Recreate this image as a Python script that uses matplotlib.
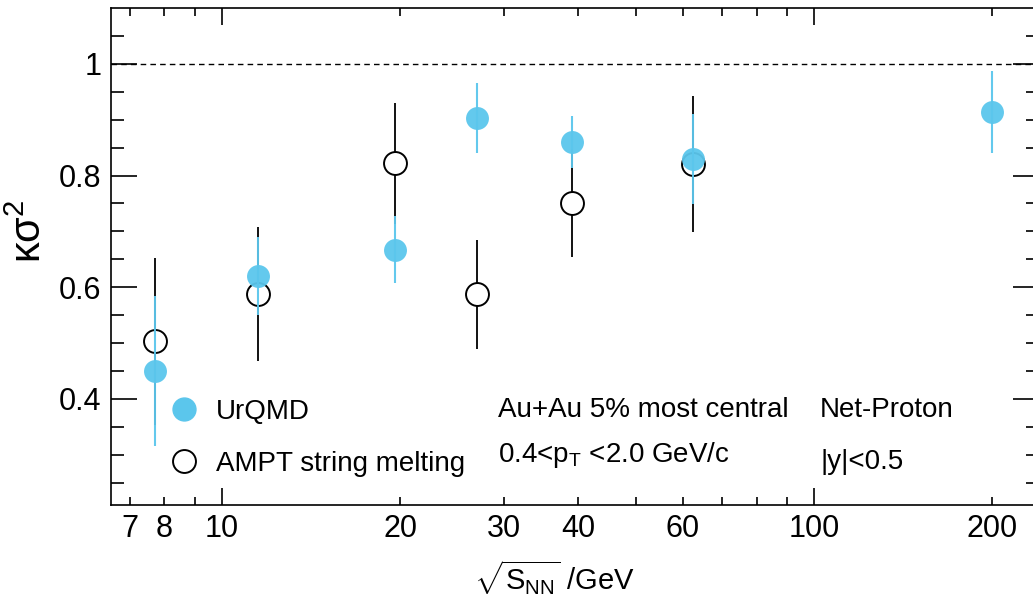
import numpy as np
import matplotlib.pyplot as plt
from matplotlib.lines import Line2D
from matplotlib.ticker import FixedLocator, NullFormatter

plt.rcParams['font.family'] = ['Liberation Sans', 'DejaVu Sans']
plt.rcParams['mathtext.fontset'] = 'custom'
plt.rcParams['mathtext.rm'] = 'Liberation Sans'
plt.rcParams['mathtext.it'] = 'Liberation Sans'
plt.rcParams['mathtext.default'] = 'regular'

# collision energies (GeV)
energy_urqmd = [7.7, 11.5, 19.6, 27, 39, 62.4, 200]
urqmd_val = [0.450, 0.620, 0.667, 0.903, 0.860, 0.830, 0.914]
urqmd_err = [0.135, 0.070, 0.060, 0.063, 0.047, 0.081, 0.073]

energy_ampt = [7.7, 11.5, 19.6, 27, 39, 62.4]
ampt_val = [0.503, 0.588, 0.822, 0.587, 0.751, 0.821]
ampt_err = [0.150, 0.120, 0.108, 0.097, 0.097, 0.122]

xmajor = [10, 100]
xlabeled = [7, 8, 10, 20, 30, 40, 60, 100, 200]
xminor = [7, 8, 9, 20, 30, 40, 50, 60, 70, 80, 90, 200]

blue = '#5bc6ec'

fig = plt.figure(figsize=(10.33, 5.96), dpi=100)
ax = fig.add_axes([0.1075, 0.1527, 0.8984, 0.8339])

ax.axhline(1.0, color='black', ls=(0, (4, 3)), lw=1.0, zorder=1)

ax.errorbar(energy_ampt, ampt_val, yerr=ampt_err, fmt='o', ms=16.5,
            mfc='white', mec='black', mew=1.4, ecolor='black',
            elinewidth=1.3, capsize=0, zorder=2)
ax.errorbar(energy_urqmd, urqmd_val, yerr=urqmd_err, fmt='o', ms=16.5,
            mfc=blue, mec=blue, mew=0, ecolor=blue, alpha=0.95,
            elinewidth=1.5, capsize=0, zorder=3)

ax.set_xscale('log')
ax.set_xlim(6.5, 240)
ax.set_ylim(0.21, 1.1)

ax.xaxis.set_major_locator(FixedLocator(xmajor))
ax.xaxis.set_minor_locator(FixedLocator(xminor))
ax.xaxis.set_major_formatter(NullFormatter())
ax.xaxis.set_minor_formatter(NullFormatter())
for xv in xlabeled:
    ax.text(xv, -0.018, str(xv), transform=ax.get_xaxis_transform(),
            ha='center', va='top', fontsize=22)

ax.set_yticks([0.4, 0.6, 0.8, 1.0])
ax.set_yticklabels(['0.4', '0.6', '0.8', '1'])
ax.set_yticks(np.arange(0.25, 1.1, 0.05), minor=True)

ax.tick_params(which='both', direction='in', top=True, right=True,
               width=1.2, labelsize=22)
ax.tick_params(axis='y', which='major', length=19, pad=7)
ax.tick_params(axis='y', which='minor', length=9.5)
ax.tick_params(axis='x', which='major', length=12)
ax.tick_params(axis='x', which='minor', length=6)
for sp in ax.spines.values():
    sp.set_linewidth(1.2)

ax.set_ylabel('κσ$^{2}$', fontsize=30)
ax.yaxis.set_label_coords(-0.066, 0.551)
fig.text(0.537, 0.03, r'$\sqrt{S_{NN}}$ /GeV', ha='center', va='center',
         fontsize=21)

handles = [Line2D([], [], ls='none', marker='o', ms=16.5, mfc=blue, mec=blue),
           Line2D([], [], ls='none', marker='o', ms=16.5, mfc='white',
                  mec='black', mew=1.4)]
ax.legend(handles, ['UrQMD', 'AMPT string melting'], loc='center left',
          bbox_to_anchor=(0.029, 0.135), frameon=False, fontsize=20,
          handletextpad=0.4, labelspacing=0.95, handlelength=1.5)

ax.text(0.417, 0.191, 'Au+Au 5% most central', transform=ax.transAxes,
        fontsize=20, va='center')
ax.text(0.417, 0.10, r'0.4<p$_{T}$ <2.0 GeV/c', transform=ax.transAxes,
        fontsize=20, va='center')
ax.text(0.764, 0.191, 'Net-Proton', transform=ax.transAxes,
        fontsize=20, va='center')
ax.text(0.764, 0.087, '|y|<0.5', transform=ax.transAxes,
        fontsize=20, va='center')

fig.savefig('out.png', dpi=100)
